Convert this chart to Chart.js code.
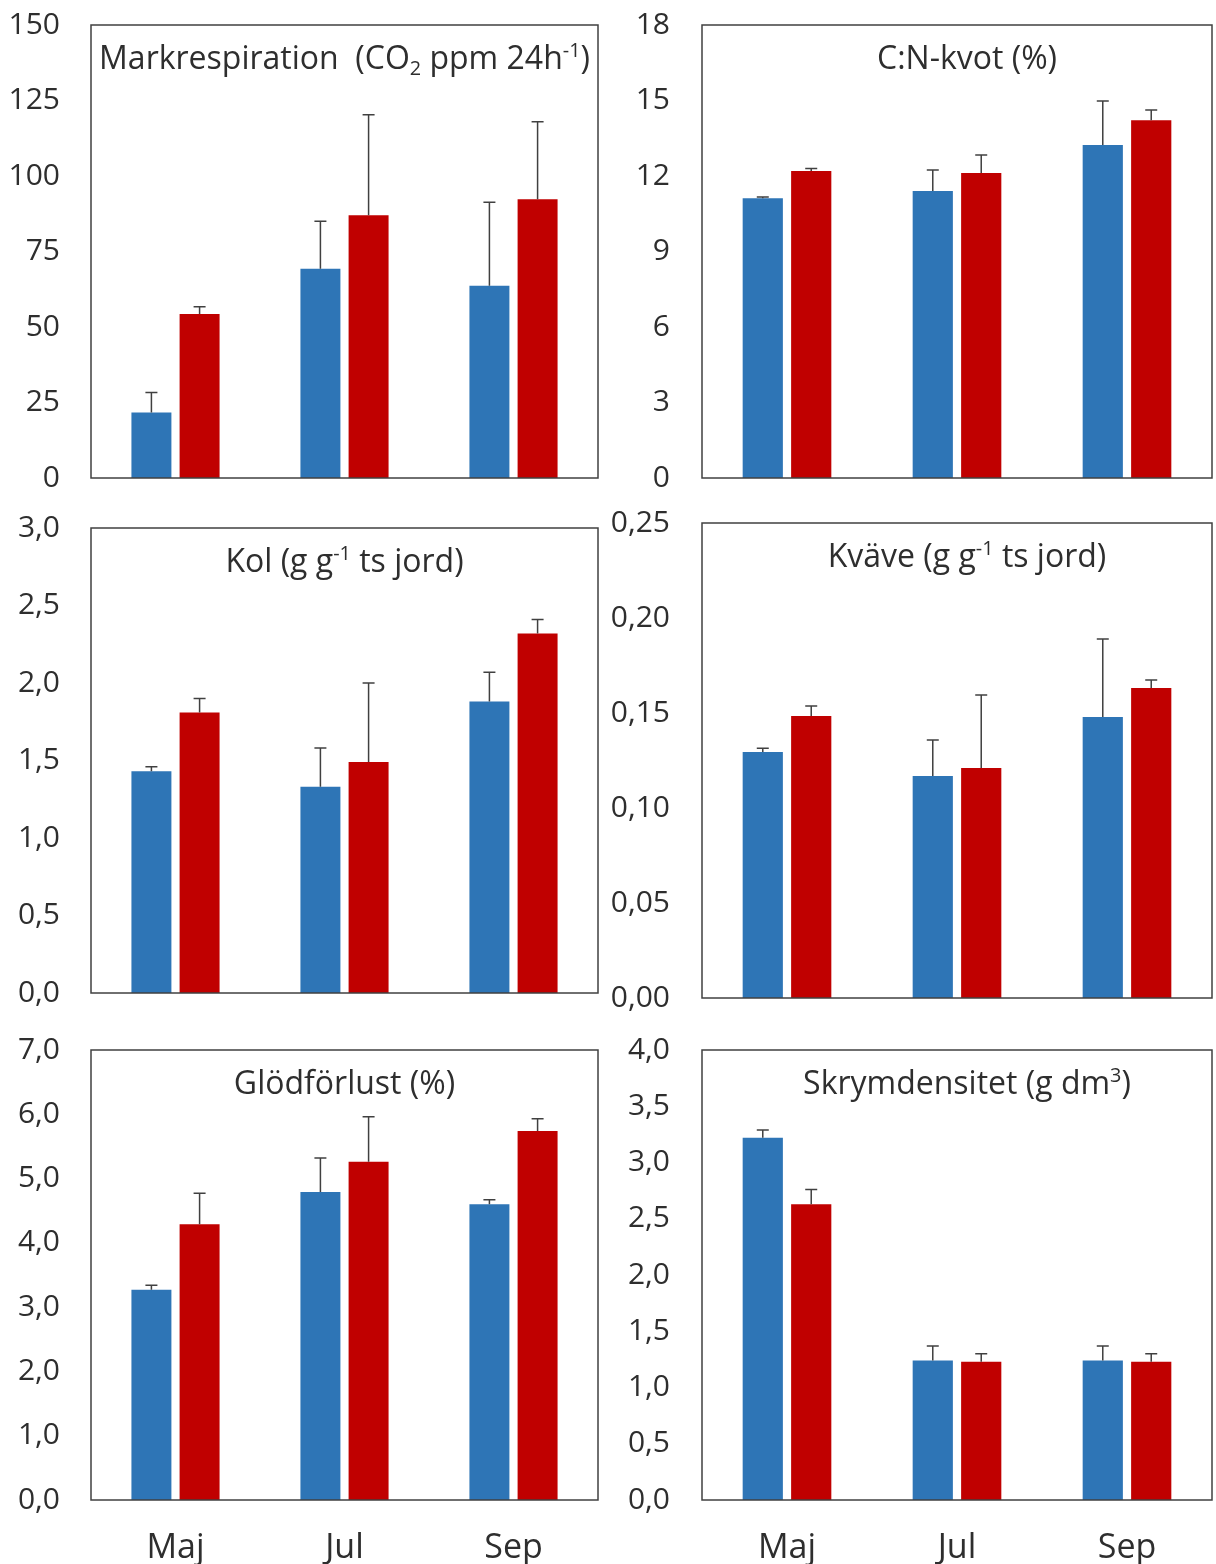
<!DOCTYPE html>
<html>
<head>
<meta charset="utf-8">
<script src="https://cdn.jsdelivr.net/npm/chart.js@4.4.1/dist/chart.umd.min.js"></script>
<style>
  body { margin: 0; background: #fff; width: 1216px; height: 1564px; position: relative; overflow: hidden; }
  canvas { position: absolute; }
</style>
</head>
<body>
<canvas id="c1" width="608" height="500" style="left:0;top:0"></canvas>
<canvas id="c2" width="606" height="500" style="left:610px;top:0"></canvas>
<canvas id="c3" width="608" height="520" style="left:0;top:500px"></canvas>
<canvas id="c4" width="606" height="520" style="left:610px;top:500px"></canvas>
<canvas id="c5" width="608" height="544" style="left:0;top:1020px"></canvas>
<canvas id="c6" width="606" height="544" style="left:610px;top:1020px"></canvas>
<script>
// categories
const months = ['Maj', 'Jul', 'Sep'];

// Markrespiration (CO2 ppm 24h-1)
const respBlue = [21.7, 69.3, 63.7];
const respBlueErr = [6.6, 15.7, 27.6];
const respRed = [54.3, 87.0, 92.3];
const respRedErr = [2.4, 33.3, 25.7];

// C:N-kvot (%)
const cnBlue = [11.12, 11.4, 13.23];
const cnBlueErr = [0.05, 0.84, 1.75];
const cnRed = [12.2, 12.12, 14.22];
const cnRedErr = [0.1, 0.71, 0.4];

// Kol (g g-1 ts jord)
const kolBlue = [1.43, 1.33, 1.88];
const kolBlueErr = [0.03, 0.25, 0.19];
const kolRed = [1.81, 1.49, 2.32];
const kolRedErr = [0.09, 0.51, 0.09];

// Kväve (g g-1 ts jord)
const kvaveBlue = [0.1295, 0.1168, 0.1479];
const kvaveBlueErr = [0.002, 0.019, 0.041];
const kvaveRed = [0.1484, 0.121, 0.1632];
const kvaveRedErr = [0.0053, 0.0385, 0.0042];

// Glödförlust (%)
const glodBlue = [3.27, 4.79, 4.6];
const glodBlueErr = [0.07, 0.53, 0.07];
const glodRed = [4.29, 5.26, 5.74];
const glodRedErr = [0.48, 0.70, 0.19];

// Skrymdensitet (g dm3)
const skrymBlue = [3.22, 1.24, 1.24];
const skrymBlueErr = [0.07, 0.13, 0.13];
const skrymRed = [2.63, 1.23, 1.23];
const skrymRedErr = [0.13, 0.07, 0.07];

const BLUE = '#2E75B6';
const RED = '#C00000';
const TEXT = '#2e2e2e';
const FONT = "'Open Sans', sans-serif";

// box, error bars and the title written inside the plot area
function panelPlugin(title, errs, dx) {
    return {
        id: 'panel',
        afterDatasetsDraw(chart) {
            const ctx = chart.ctx;
            const yScale = chart.scales.y;
            ctx.save();
            ctx.strokeStyle = '#404040';
            ctx.lineWidth = 1.5;
            chart.data.datasets.forEach((ds, i) => {
                const meta = chart.getDatasetMeta(i);
                meta.data.forEach((bar, j) => {
                    const yTop = yScale.getPixelForValue(ds.data[j] + errs[i][j]);
                    ctx.beginPath();
                    ctx.moveTo(bar.x, bar.y);
                    ctx.lineTo(bar.x, yTop);
                    ctx.moveTo(bar.x - 6, yTop);
                    ctx.lineTo(bar.x + 6, yTop);
                    ctx.stroke();
                });
            });
            const a = chart.chartArea;
            ctx.strokeRect(a.left, a.top, a.right - a.left, a.bottom - a.top);

            // title with sub/superscript parts
            const size = 32;
            const parts = title.map(([txt, mode]) => {
                const s = mode ? size * 0.62 : size;
                ctx.font = s + 'px ' + FONT;
                return { txt, mode, s, w: ctx.measureText(txt).width };
            });
            const total = parts.reduce((sum, p) => sum + p.w, 0);
            let x = (a.left + a.right) / 2 + dx - total / 2;
            const base = a.top + 44;
            ctx.fillStyle = TEXT;
            ctx.textBaseline = 'alphabetic';
            parts.forEach(p => {
                ctx.font = p.s + 'px ' + FONT;
                let y = base;
                if (p.mode === 'sub') y += size * 0.2;
                if (p.mode === 'sup') y -= size * 0.38;
                ctx.fillText(p.txt, x, y);
                x += p.w;
            });
            ctx.restore();
        }
    };
}

function makeChart(id, blue, red, errs, title, yMax, step, decimals, left, row) {
    const showX = row === 3;
    const pad = {
        1: { top: 25, bottom: 22 },
        2: { top: left ? 28 : 23, bottom: left ? 27 : 22 },
        3: { top: 30, bottom: 0 }
    }[row];
    const xScale = {
        display: showX,
        grid: { display: false, drawTicks: false },
        border: { display: false },
        ticks: { color: TEXT, font: { family: FONT, size: 34 }, padding: 28 }
    };
    if (showX) xScale.afterFit = scale => { scale.height = 64; };
    return new Chart(document.getElementById(id), {
        type: 'bar',
        data: {
            labels: months,
            datasets: [
                { data: blue, backgroundColor: BLUE, categoryPercentage: 0.57, barPercentage: 0.83 },
                { data: red, backgroundColor: RED, categoryPercentage: 0.57, barPercentage: 0.83 }
            ]
        },
        options: {
            responsive: false,
            animation: false,
            layout: { padding: { top: pad.top, bottom: pad.bottom, left: 0, right: left ? 10 : 4 } },
            plugins: { legend: { display: false }, tooltip: { enabled: false } },
            scales: {
                x: xScale,
                y: {
                    min: 0,
                    max: yMax,
                    grid: { display: false, drawTicks: false },
                    border: { display: false },
                    ticks: {
                        stepSize: step,
                        color: TEXT,
                        font: { family: FONT, size: 30 },
                        padding: left ? 31 : 32,
                        callback: v => Number(v).toFixed(decimals).replace('.', ',')
                    },
                    afterFit(scale) {
                        scale.width = left ? 91 : 92;
                        scale.paddingTop = 10;
                        scale.paddingBottom = 10;
                    }
                }
            }
        },
        plugins: [panelPlugin(title, errs, left ? 0 : 10)]
    });
}

makeChart('c1', respBlue, respRed, [respBlueErr, respRedErr],
    [['Markrespiration  (CO'], ['2', 'sub'], [' ppm 24h'], ['-1', 'sup'], [')']],
    150, 25, 0, true, 1);
makeChart('c2', cnBlue, cnRed, [cnBlueErr, cnRedErr],
    [['C:N-kvot (%)']],
    18, 3, 0, false, 1);
makeChart('c3', kolBlue, kolRed, [kolBlueErr, kolRedErr],
    [['Kol (g g'], ['-1', 'sup'], [' ts jord)']],
    3, 0.5, 1, true, 2);
makeChart('c4', kvaveBlue, kvaveRed, [kvaveBlueErr, kvaveRedErr],
    [['Kväve (g g'], ['-1', 'sup'], [' ts jord)']],
    0.25, 0.05, 2, false, 2);
makeChart('c5', glodBlue, glodRed, [glodBlueErr, glodRedErr],
    [['Glödförlust (%)']],
    7, 1, 1, true, 3);
makeChart('c6', skrymBlue, skrymRed, [skrymBlueErr, skrymRedErr],
    [['Skrymdensitet (g dm'], ['3', 'sup'], [')']],
    4, 0.5, 1, false, 3);
</script>
</body>
</html>
